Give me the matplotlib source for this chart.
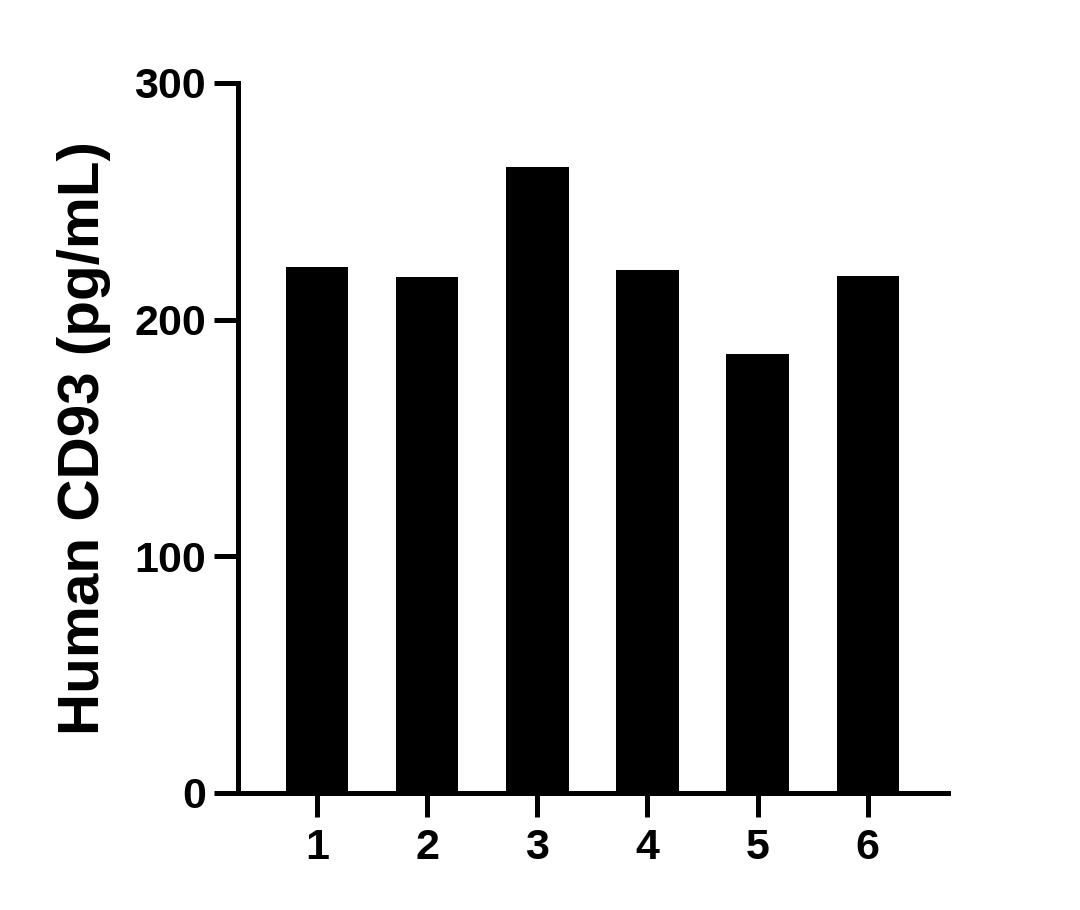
import matplotlib
matplotlib.use("Agg")
import matplotlib.pyplot as plt

categories = ["1", "2", "3", "4", "5", "6"]
values = [222.2, 218.0, 264.5, 220.9, 185.3, 218.4]
y_ticks = [0, 100, 200, 300]
y_label = "Human CD93 (pg/mL)"

plt.rcParams['font.family'] = ['Liberation Sans', 'DejaVu Sans']
plt.rcParams['font.weight'] = 'bold'

fig = plt.figure(figsize=(10.8, 9.1), dpi=100)
ax = fig.add_axes([238/1080, 1 - 793/910, (948-238)/1080, (793-83)/910])

x = list(range(1, len(categories) + 1))
ax.bar(x, values, width=0.565, color='black', edgecolor='none', zorder=1)

ax.set_xlim(0.28, 6.73)
ax.set_ylim(0, 300)
ax.set_yticks(y_ticks)
ax.set_yticklabels([str(t) for t in y_ticks])
ax.set_xticks(x)
ax.set_xticklabels(categories)

for s in ['top', 'right']:
    ax.spines[s].set_visible(False)
for s in ['left', 'bottom']:
    ax.spines[s].set_linewidth(3.6)
    ax.spines[s].set_capstyle('projecting')
    ax.spines[s].set_zorder(3)

ax.tick_params(axis='both', width=3.6, length=17, color='black',
               labelsize=31, pad=6)
ax.tick_params(axis='x', pad=8)
for lab in ax.get_xticklabels() + ax.get_yticklabels():
    lab.set_fontweight('bold')

ax.set_ylabel(y_label, fontsize=42, fontweight='bold', labelpad=17)

fig.savefig("out.png", dpi=100, facecolor='white')
